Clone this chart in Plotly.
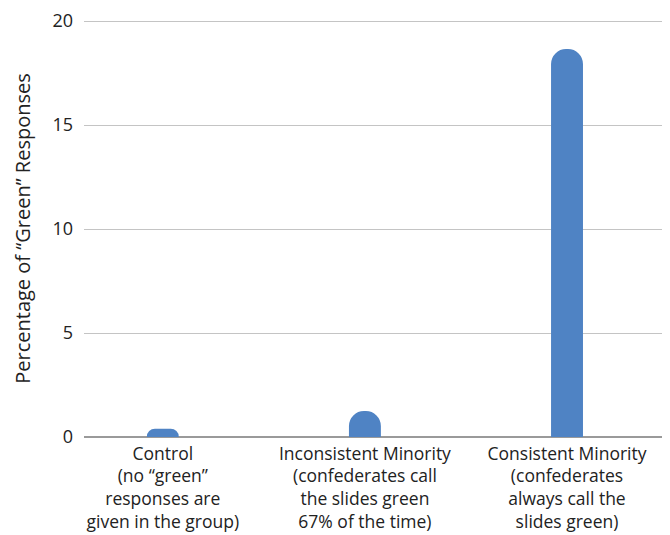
import plotly.graph_objects as go

categories = [
    "Control<br>(no “green”<br>responses are<br>given in the group)",
    "Inconsistent Minority<br>(confederates call<br>the slides green<br>67% of the time)",
    "Consistent Minority<br>(confederates<br>always call the<br>slides green)",
]
values = [0.4, 1.25, 18.65]
y_ticks = [0, 5, 10, 15, 20]

FONT = "Open Sans"
TEXT = "#222222"

fig = go.Figure(
    go.Bar(
        x=categories,
        y=values,
        width=0.158,
        marker=dict(color="#4f83c4", cornerradius=16, line=dict(width=0)),
        hoverinfo="skip",
    )
)

# the page body adds an 8px offset; margins compensate for it
fig.update_layout(
    width=670,
    height=535,
    margin=dict(l=76, r=16, t=12, b=106, autoexpand=False),
    plot_bgcolor="white",
    paper_bgcolor="white",
    showlegend=False,
    font=dict(family=FONT, size=17, color=TEXT),
)

fig.update_xaxes(
    type="category",
    range=[-0.39, 2.47],
    showgrid=False,
    showline=False,
    ticks="",
    automargin=False,
    ticklabelstandoff=4,
    tickfont=dict(family=FONT, size=17.5, color=TEXT),
    fixedrange=True,
)

fig.update_yaxes(
    range=[0, 20.05],
    automargin=False,
    tickvals=y_ticks,
    ticktext=[str(v) for v in y_ticks],
    ticklabeloverflow="allow",
    showgrid=True,
    gridcolor="#c4c4c4",
    gridwidth=1.3,
    zeroline=True,
    zerolinecolor="#9a9a9a",
    zerolinewidth=1.5,
    showline=False,
    ticks="",
    ticklabelstandoff=10,
    tickfont=dict(family=FONT, size=18, color=TEXT),
    title=dict(
        text="Percentage of “Green” Responses",
        font=dict(family=FONT, size=20, color=TEXT),
        standoff=16,
    ),
)

fig.write_html("out.html")
